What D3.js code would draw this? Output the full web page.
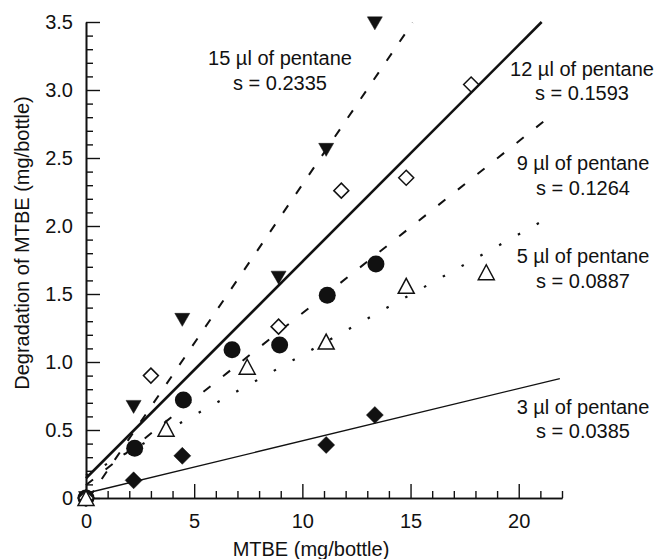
<!DOCTYPE html>
<html>
<head>
<meta charset="utf-8">
<script src="https://cdn.jsdelivr.net/npm/d3@7"></script>
<style>
  html, body { margin: 0; padding: 0; background: #fff; }
  svg { display: block; }
  text { font-family: "Liberation Sans", Arial, Helvetica, sans-serif; fill: #111; }
</style>
</head>
<body>
<svg id="chart" width="661" height="559"></svg>
<script>
// ---------- data ----------
const xMajorTicks = [0, 5, 10, 15, 20];
const yMajorTicks = [0, 0.5, 1.0, 1.5, 2.0, 2.5, 3.0, 3.5];

// 15 µl of pentane (filled down triangles)
const p15x = [0, 2.2, 4.45, 8.9, 11.1, 13.35];
const p15y = [0, 0.67, 1.31, 1.62, 2.56, 3.49];
// 12 µl of pentane (open diamonds)
const p12x = [0, 3.0, 8.9, 11.8, 14.8, 17.8];
const p12y = [0, 0.90, 1.26, 2.26, 2.355, 3.04];
// 9 µl of pentane (filled circles)
const p9x = [0, 2.25, 4.5, 6.75, 8.95, 11.15, 13.4];
const p9y = [0, 0.365, 0.72, 1.09, 1.125, 1.49, 1.72];
// 5 µl of pentane (open up triangles)
const p5x = [0, 3.7, 7.45, 11.1, 14.8, 18.5];
const p5y = [0, 0.51, 0.965, 1.15, 1.56, 1.66];
// 3 µl of pentane (filled diamonds)
const p3x = [0, 2.2, 4.45, 11.1, 13.35];
const p3y = [0, 0.13, 0.31, 0.39, 0.61];

// fitted lines: slope, intercept, x-range
const lineNames      = ["15", "12", "9", "5", "3"];
const lineSlopes     = [0.2335, 0.1593, 0.1264, 0.0887, 0.0385];
const lineIntercepts = [-0.03, 0.145, 0.095, 0.165, 0.035];
const lineXStart     = [0.13, 0, 0, 0, 0];
const lineXEnd       = [15.1, 21.06, 21.6, 21.4, 21.9];

const labelLine1 = ["15 µl of pentane", "12 µl of pentane", "9 µl of pentane", "5 µl of pentane", "3 µl of pentane"];
const labelLine2 = ["s = 0.2335", "s = 0.1593", "s = 0.1264", "s = 0.0887", "s = 0.0385"];

// ---------- layout ----------
const svg = d3.select("#chart");
const x = d3.scaleLinear().domain([0, 22]).range([86, 562]);
const y = d3.scaleLinear().domain([0, 3.5]).range([498, 22]);

// ---------- axes ----------
const fontSize = 20;
const yFmt = d => d === 0 ? "0" : d3.format(".1f")(d);

const xMinor = d3.range(0, 23).filter(v => !xMajorTicks.includes(v));
const yMinor = d3.range(0, 35).map(v => v / 10).filter(v => !yMajorTicks.some(t => Math.abs(t - v) < 1e-9));

const gxMinor = svg.append("g").attr("transform", `translate(0,${y(0)})`)
  .call(d3.axisBottom(x).tickValues(xMinor).tickSize(-7).tickSizeOuter(0).tickFormat(""));
const gx = svg.append("g").attr("transform", `translate(0,${y(0)})`)
  .call(d3.axisBottom(x).tickValues(xMajorTicks).tickSize(-14).tickSizeOuter(0).tickPadding(16).tickFormat(d3.format("d")));
const gyMinor = svg.append("g").attr("transform", `translate(${x(0)},0)`)
  .call(d3.axisLeft(y).tickValues(yMinor).tickSize(-7).tickSizeOuter(0).tickFormat(""));
const gy = svg.append("g").attr("transform", `translate(${x(0)},0)`)
  .call(d3.axisLeft(y).tickValues(yMajorTicks).tickSize(-14).tickSizeOuter(0).tickPadding(13).tickFormat(yFmt));

[gx, gy, gxMinor, gyMinor].forEach(g => {
  g.selectAll("path.domain").attr("stroke", "#111").attr("stroke-width", 1.6);
  g.selectAll(".tick line").attr("stroke", "#111").attr("stroke-width", 1.4);
  g.selectAll("text").attr("font-size", fontSize).attr("font-family", "Liberation Sans, Arial, sans-serif").attr("fill", "#111");
});

// axis titles
svg.append("text")
  .attr("x", 311).attr("y", 556)
  .attr("text-anchor", "middle").attr("font-size", fontSize)
  .text("MTBE (mg/bottle)");
svg.append("text")
  .attr("transform", "translate(29,243) rotate(-90)")
  .attr("text-anchor", "middle").attr("font-size", fontSize)
  .text("Degradation of MTBE (mg/bottle)");

// ---------- fitted lines ----------
const lineStyles = {
  "15": { w: 2.0, dash: "9,14" },
  "12": { w: 2.6, dash: null },
  "9":  { w: 2.0, dash: "9,16" },
  "5":  { w: 2.2, dash: "2.5,19" },
  "3":  { w: 1.4, dash: null }
};
const lineGen = d3.line().x(d => x(d[0])).y(d => y(d[1]));
lineNames.forEach((name, i) => {
  const pts = [lineXStart[i], lineXEnd[i]].map(v => [v, lineIntercepts[i] + lineSlopes[i] * v]);
  const st = lineStyles[name];
  svg.append("path")
    .attr("d", lineGen(pts))
    .attr("fill", "none")
    .attr("stroke", "#111")
    .attr("stroke-width", st.w)
    .attr("stroke-dasharray", st.dash)
    .attr("stroke-linecap", "butt");
});

// ---------- markers ----------
const zip = (xs, ys) => xs.map((v, i) => [v, ys[i]]);
const shapes = {
  diamondFilled: "M0,-8.5L8.5,0L0,8.5L-8.5,0Z",
  triDown: "M-7.5,-6.5L7.5,-6.5L0,6.5Z",
  diamondOpen: "M0,-7.5L7.5,0L0,7.5L-7.5,0Z",
  triUp: "M0,-7.5L8,7.5L-8,7.5Z"
};

function drawPath(data, d, fill, strokeW) {
  svg.append("g").selectAll("path").data(data).join("path")
    .attr("d", d)
    .attr("transform", p => `translate(${x(p[0])},${y(p[1])})`)
    .attr("fill", fill)
    .attr("stroke", "#111")
    .attr("stroke-width", strokeW)
    .attr("stroke-linejoin", "miter");
}

drawPath(zip(p3x, p3y), shapes.diamondFilled, "#111", 0.5);
svg.append("g").selectAll("circle").data(zip(p9x, p9y)).join("circle")
  .attr("cx", p => x(p[0])).attr("cy", p => y(p[1])).attr("r", 8.5)
  .attr("fill", "#111");
drawPath(zip(p15x, p15y), shapes.triDown, "#111", 0.5);
drawPath(zip(p12x, p12y), shapes.diamondOpen, "#fff", 1.5);
drawPath(zip(p5x, p5y), shapes.triUp, "#fff", 1.5);

// ---------- annotations ----------
const labelPos = [
  [280, 65, 90],
  [582, 76, 100],
  [583, 170, 195],
  [583, 263, 288],
  [583, 414, 438]
];
labelPos.forEach((p, i) => {
  svg.append("text").attr("x", p[0]).attr("y", p[1])
    .attr("text-anchor", "middle").attr("font-size", fontSize).text(labelLine1[i]);
  svg.append("text").attr("x", p[0]).attr("y", p[2])
    .attr("text-anchor", "middle").attr("font-size", fontSize).text(labelLine2[i]);
});
</script>
</body>
</html>
